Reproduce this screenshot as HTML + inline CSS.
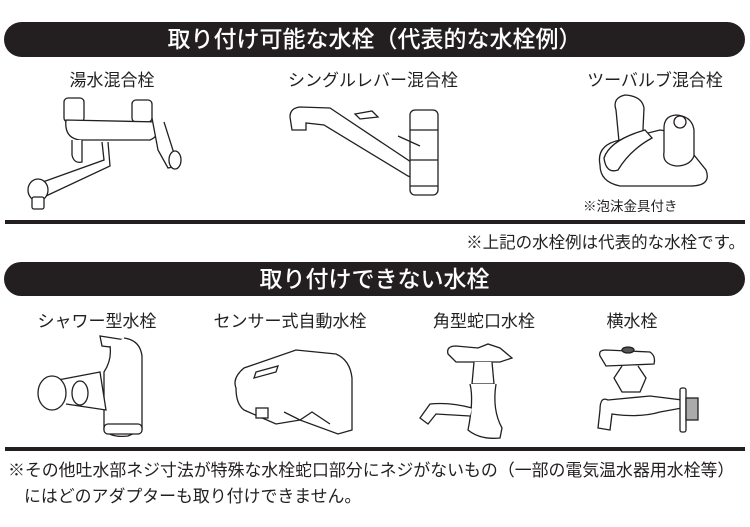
<!DOCTYPE html>
<html><head><meta charset="utf-8"><style>
body{margin:0;width:750px;height:527px;background:#fff;position:relative;overflow:hidden;font-family:"Liberation Sans","Noto Sans CJK JP",sans-serif;color:#231f20}
.bar{position:absolute;left:4px;width:741px;background:#231f20;color:#fff;border-radius:18px;text-align:center;font-size:23px;font-weight:500}
.lb{position:absolute;font-size:17px;white-space:nowrap;transform:translateX(-50%)}
.t{position:absolute;white-space:nowrap}
.hr{position:absolute;left:5px;width:740px;height:4px;background:#231f20}
svg{position:absolute;left:0;top:0}
</style></head><body>
<div class="bar" style="top:22px;height:35px;line-height:35px">取り付け可能な水栓（代表的な水栓例）</div>
<div class="lb" style="left:112px;top:66px">湯水混合栓</div>
<div class="lb" style="left:373px;top:66px">シングルレバー混合栓</div>
<div class="lb" style="left:655px;top:66px">ツーバルブ混合栓</div>
<div class="t" style="left:583px;top:195px;font-size:13.5px">※泡沫金具付き</div>
<div class="hr" style="top:220px"></div>
<div class="t" style="right:5px;top:229px;font-size:16.5px">※上記の水栓例は代表的な水栓です。</div>
<div class="bar" style="top:262px;height:34px;line-height:34px">取り付けできない水栓</div>
<div class="lb" style="left:97px;top:307px">シャワー型水栓</div>
<div class="lb" style="left:290px;top:307px">センサー式自動水栓</div>
<div class="lb" style="left:484px;top:307px">角型蛇口水栓</div>
<div class="lb" style="left:632px;top:307px">横水栓</div>
<div class="hr" style="top:447px"></div>
<div class="t" style="left:8px;top:456px;font-size:16.9px">※その他吐水部ネジ寸法が特殊な水栓蛇口部分にネジがないもの（一部の電気温水器用水栓等）</div>
<div class="t" style="left:24px;top:482px;font-size:16.9px">にはどのアダプターも取り付けできません。</div>
<svg width="750" height="527" fill="#fff" stroke="#231f20" stroke-width="1.3">
<rect x="64" y="98" width="20" height="24" rx="4"/><rect x="132" y="100" width="20" height="22" rx="4"/>
<path d="M66 120 Q64 138 80 140 L150 140 Q160 136 160 122 Z"/>
<path d="M152 118 L158 150 L168 168 L178 166 L164 122"/>
<ellipse cx="175" cy="160" rx="6" ry="9"/>
<path d="M72 140 L72 155 Q74 164 82 162 L82 140"/>
<path d="M102 142 L104 160 L40 183 L46 196 L110 166 L108 142"/>
<ellipse cx="38" cy="190" rx="10" ry="11"/>
<rect x="32" y="197" width="12" height="12" rx="2"/>
<path d="M290 117 Q290 108 300 107 L330 108 L420 168 Q426 178 418 180 L408 176 L324 125 L306 123 L306 130 L292 130 Z"/>
<path d="M355 114 L372 111 L378 117 L360 119 Z"/>
<rect x="410" y="110" width="28" height="85" rx="5"/>
<line x1="410" y1="130" x2="438" y2="130"/><line x1="410" y1="160" x2="438" y2="160"/><line x1="410" y1="186" x2="438" y2="186"/>
<path d="M398 136 L420 146"/>
<path d="M616 110 Q612 98 625 95 Q642 96 644 108 L642 150 L620 152 Z"/>
<path d="M600 165 Q596 145 620 140 L660 130 Q680 132 690 150 L706 170 Q712 186 690 186 L620 186 Q600 182 600 165 Z"/>
<path d="M604 158 Q610 140 645 130 L652 138 Q630 150 618 170 Q606 174 604 158 Z"/>
<path d="M664 128 Q664 116 676 115 Q692 116 694 130 L694 156 Q690 166 676 166 Q662 164 664 152 Z"/>
<ellipse cx="680" cy="122" rx="6" ry="6"/>
<path d="M100 336 L132 341 L134 350 L102 346 Z"/>
<path d="M110 346 Q112 360 104 372 L104 430 Q112 438 128 436 L142 430 L142 356 Q140 340 124 338"/>
<rect x="104" y="424" width="38" height="10" rx="4"/>
<path d="M58 380 L100 372 L106 410 L66 404"/>
<ellipse cx="80" cy="393" rx="8" ry="12"/>
<ellipse cx="52" cy="393" rx="14" ry="17"/>
<path d="M236 388 Q232 378 244 368 L296 350 L336 354 Q350 360 352 378 L352 430 L338 434 L300 420 L276 424 L244 410 Q236 404 236 388 Z"/>
<path d="M256 372 L278 366 L276 372 L254 378 Z"/>
<path d="M284 412 L300 420 L312 412 L330 424"/>
<rect x="256" y="408" width="12" height="10"/>
<path d="M448 354 Q446 346 456 346 L478 348 L488 344 L500 348 L512 358 L500 362 L456 362 Z"/>
<path d="M474 362 L472 384 L494 384 L492 362"/>
<path d="M470 384 Q474 400 468 430 Q480 440 500 438 L502 428 Q492 410 496 384"/>
<path d="M472 408 Q450 402 430 404 L420 418 L428 424 L436 414 L470 416"/>
<path d="M600 356 Q598 350 606 350 L650 352 Q656 356 654 364 L606 366 Z"/>
<ellipse cx="628" cy="350" rx="6" ry="3" fill="#555"/>
<path d="M622 366 L614 378 L622 392 L640 392 L646 378 L638 366"/>
<path d="M608 400 Q600 396 600 410 L598 428 L610 430 L612 414 Q640 418 660 412 L682 408 L682 400 L650 396 Z"/>
<rect x="680" y="388" width="6" height="44" rx="2"/>
<rect x="686" y="398" width="12" height="22" fill="#aaa"/>
</svg>
</body></html>
